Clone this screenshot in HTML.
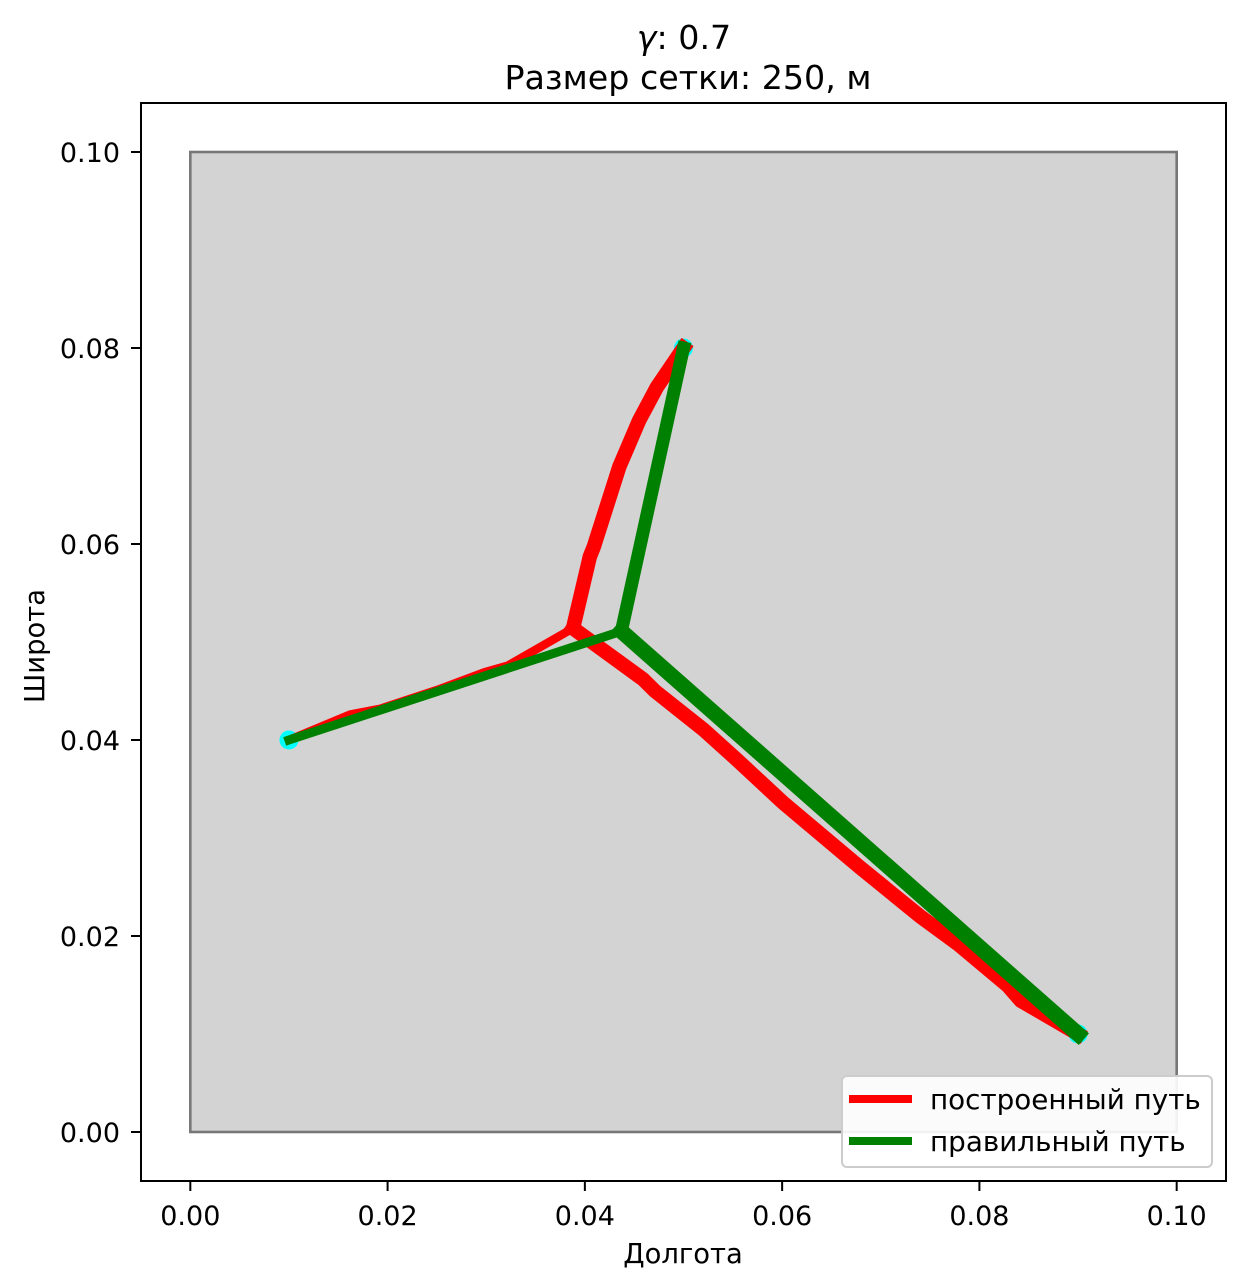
<!DOCTYPE html>
<html lang="ru">
<head>
<meta charset="utf-8">
<title>Размер сетки: 250, м</title>
<style>
html,body{margin:0;padding:0;background:#fff;}
svg{display:block;}
text{font-family:"DejaVu Sans","Liberation Sans",sans-serif;fill:#000;}
</style>
</head>
<body>
<svg id="chart" xmlns="http://www.w3.org/2000/svg" width="1249" height="1288" viewBox="0 0 1249 1288">
  <text x="684" y="49" text-anchor="middle" font-size="33.3"><tspan font-style="italic">γ</tspan>: 0.7</text>
  <text x="688" y="89" text-anchor="middle" font-size="33.3">Размер сетки: 250, м</text>
  <g id="plot"></g>
  <rect x="141" y="103" width="1085" height="1078" fill="none" stroke="#000" stroke-width="2"></rect>
  <g id="ticks"></g>
  <text x="683" y="1263" text-anchor="middle" font-size="27.4">Долгота</text>
  <text transform="translate(44 646) rotate(-90)" text-anchor="middle" font-size="27.4">Широта</text>
  <g>
    <rect x="842" y="1076" width="370" height="91" rx="5" ry="5" fill="#fff" fill-opacity="0.9" stroke="#ccc" stroke-width="2"></rect>
    <line x1="849" y1="1099" x2="912" y2="1099" stroke="#f00" stroke-width="8"></line>
    <text x="930" y="1109" font-size="27.8">построенный путь</text>
    <line x1="849" y1="1141" x2="912" y2="1141" stroke="#008000" stroke-width="8"></line>
    <text x="930" y="1151" font-size="27.8">правильный путь</text>
  </g>
</svg>
<script>
const xTicks = [0, 0.02, 0.04, 0.06, 0.08, 0.1];
const yTicks = [0, 0.02, 0.04, 0.06, 0.08, 0.1];
const xTickLabels = ['0.00', '0.02', '0.04', '0.06', '0.08', '0.10'];
const yTickLabels = ['0.00', '0.02', '0.04', '0.06', '0.08', '0.10'];
const regionX = [0, 0.1];
const regionY = [0, 0.1];
const nodeX = [0.05, 0.01, 0.09];
const nodeY = [0.08, 0.04, 0.01];
const builtUpperX = [0.05, 0.0473, 0.0455, 0.0435, 0.0409, 0.0405, 0.0388];
const builtUpperY = [0.08, 0.076, 0.0726, 0.0679, 0.0597, 0.0587, 0.0514];
const builtLeftX = [0.0388, 0.0322, 0.0298, 0.0253, 0.0193, 0.0162, 0.01];
const builtLeftY = [0.0514, 0.0476, 0.0469, 0.0452, 0.0432, 0.0426, 0.04];
const builtRightX = [0.0388, 0.0459, 0.0471, 0.0521, 0.0554, 0.0601, 0.0679, 0.074, 0.0778, 0.0829, 0.0842, 0.09];
const builtRightY = [0.0514, 0.0462, 0.045, 0.041, 0.038, 0.0336, 0.027, 0.022, 0.0192, 0.0149, 0.0134, 0.01];
const correctUpperX = [0.05, 0.0437];
const correctUpperY = [0.08, 0.0511];
const correctLeftX = [0.0437, 0.01];
const correctLeftY = [0.0511, 0.04];
const correctRightX = [0.0437, 0.09];
const correctRightY = [0.0511, 0.01];

const NS = 'http://www.w3.org/2000/svg';
const axLeft = 141, axRight = 1226, axTop = 103, axBottom = 1181;
const domMin = -0.005, domMax = 0.105;
function xScale(v) { return axLeft + (v - domMin) / (domMax - domMin) * (axRight - axLeft); }
function yScale(v) { return axBottom - (v - domMin) / (domMax - domMin) * (axBottom - axTop); }
function make(tag, attrs, parent) {
  const el = document.createElementNS(NS, tag);
  for (const k in attrs) el.setAttribute(k, attrs[k]);
  parent.appendChild(el);
  return el;
}
function pointsOf(xs, ys) {
  return xs.map((v, i) => xScale(v).toFixed(2) + ',' + yScale(ys[i]).toFixed(2)).join(' ');
}
const plot = document.getElementById('plot');
const ticks = document.getElementById('ticks');

const region = make('rect', {
  x: xScale(regionX[0]), y: yScale(regionY[1]),
  width: xScale(regionX[1]) - xScale(regionX[0]),
  height: yScale(regionY[0]) - yScale(regionY[1]),
  fill: '#d3d3d3', stroke: '#777', 'stroke-width': 2.6
}, plot);



nodeX.forEach((v, i) => {
  const dot = make('circle', { cx: xScale(v), cy: yScale(nodeY[i]), r: 9.5, fill: '#00ffff' }, plot);
  
  
});

function drawPath(xs, ys, color, width, name) {
  const line = make('polyline', {
    points: pointsOf(xs, ys), fill: 'none', stroke: color,
    'stroke-width': width, 'stroke-linejoin': 'round', 'stroke-linecap': 'square'
  }, plot);
  
  
}
drawPath(builtLeftX, builtLeftY, '#f00', 8.5, 'built-path-left');
drawPath(builtRightX, builtRightY, '#f00', 14.5, 'built-path-right');
drawPath(builtUpperX, builtUpperY, '#f00', 14.5, 'built-path-upper');
drawPath(correctLeftX, correctLeftY, '#008000', 9, 'correct-path-left');
drawPath(correctRightX, correctRightY, '#008000', 15.5, 'correct-path-right');
drawPath(correctUpperX, correctUpperY, '#008000', 13, 'correct-path-upper');

xTicks.forEach((v, i) => {
  const px = xScale(v);
  const mark = make('line', { x1: px, y1: axBottom, x2: px, y2: axBottom + 10, stroke: '#000', 'stroke-width': 2 }, ticks);
  
  
  const label = make('text', { x: px, y: 1225, 'text-anchor': 'middle', 'font-size': 27 }, ticks);
  
  
  label.textContent = xTickLabels[i];
});
yTicks.forEach((v, i) => {
  const py = yScale(v);
  const mark = make('line', { x1: axLeft, y1: py, x2: axLeft - 10, y2: py, stroke: '#000', 'stroke-width': 2 }, ticks);
  
  
  const label = make('text', { x: 120, y: py + 10, 'text-anchor': 'end', 'font-size': 27 }, ticks);
  
  
  label.textContent = yTickLabels[i];
});
</script>
</body>
</html>
